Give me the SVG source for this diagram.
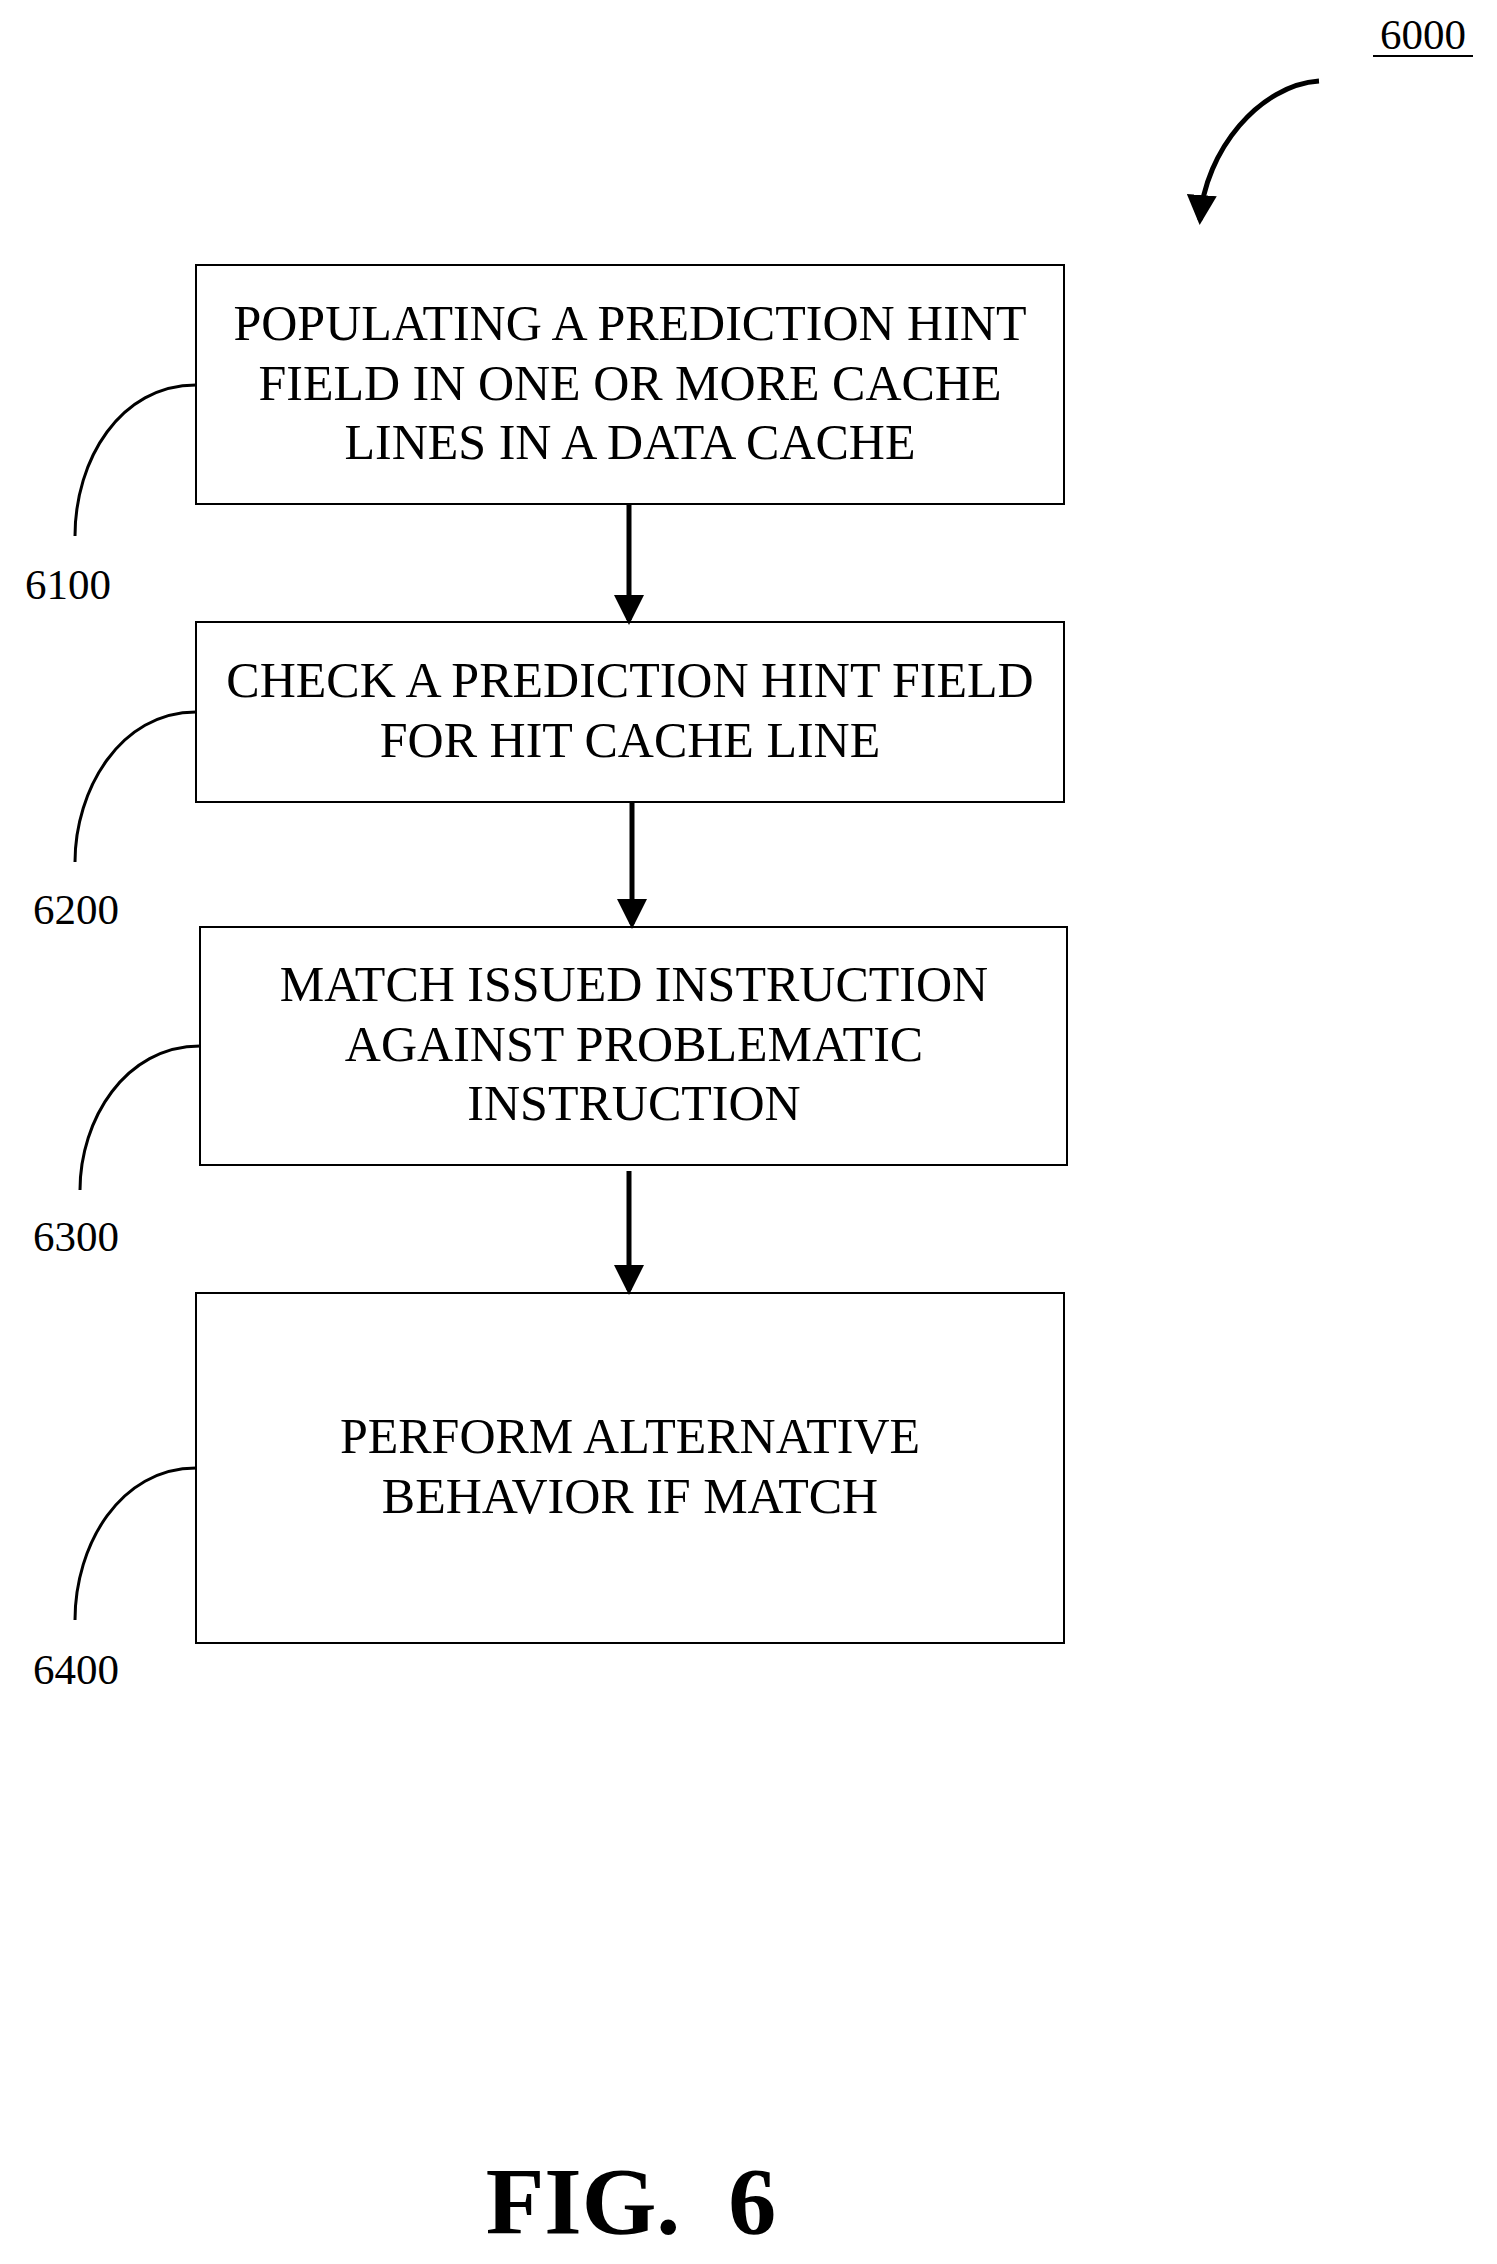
<svg xmlns="http://www.w3.org/2000/svg" width="1497" height="2264" viewBox="0 0 1497 2264">
<style>
.b{fill:#fff;stroke:#000;stroke-width:2}
.t{font-family:"Liberation Serif",serif;font-size:50px;text-anchor:middle}
.l{font-family:"Liberation Serif",serif;font-size:43px;text-anchor:middle}
.c{fill:none;stroke:#000;stroke-width:3}
.k{fill:none;stroke:#000;stroke-width:5}
</style>
<defs><marker id="a" markerWidth="6" markerHeight="6" refX="5" refY="3" orient="auto" markerUnits="strokeWidth"><path d="M0,0L6,3L0,6z"/></marker></defs>
<rect width="1497" height="2264" fill="#fff"/>
<g id="n6100"><rect class="b" x="196" y="265" width="868" height="239"/>
<text class="t" x="630" y="340">POPULATING A PREDICTION HINT</text>
<text class="t" x="630" y="400">FIELD IN ONE OR MORE CACHE</text>
<text class="t" x="630" y="459">LINES IN A DATA CACHE</text>
<path class="c" d="M196,385 C120,385 75,460 75,536"/><text class="l" x="68" y="599">6100</text></g>
<g id="n6200"><rect class="b" x="196" y="622" width="868" height="180"/>
<text class="t" x="630" y="697">CHECK A PREDICTION HINT FIELD</text>
<text class="t" x="630" y="757">FOR HIT CACHE LINE</text>
<path class="c" d="M196,712 C120,712 75,790 75,862"/><text class="l" x="76" y="924">6200</text></g>
<g id="n6300"><rect class="b" x="200" y="927" width="867" height="238"/>
<text class="t" x="634" y="1001">MATCH ISSUED INSTRUCTION</text>
<text class="t" x="634" y="1061">AGAINST PROBLEMATIC</text>
<text class="t" x="634" y="1120">INSTRUCTION</text>
<path class="c" d="M200,1046 C125,1046 80,1120 80,1190"/><text class="l" x="76" y="1251">6300</text></g>
<g id="n6400"><rect class="b" x="196" y="1293" width="868" height="350"/>
<text class="t" x="630" y="1453">PERFORM ALTERNATIVE</text>
<text class="t" x="630" y="1513">BEHAVIOR IF MATCH</text>
<path class="c" d="M196,1468 C120,1468 75,1545 75,1620"/><text class="l" x="76" y="1684">6400</text></g>
<g id="connectors">
<path class="k" d="M629,504V620" marker-end="url(#a)"/>
<path class="k" d="M632,802V924" marker-end="url(#a)"/>
<path class="k" d="M629,1171V1290" marker-end="url(#a)"/>
<path class="k" d="M1319,81 C1260,85 1205,150 1200,220" marker-end="url(#a)"/>
</g>
<text class="l" x="1423" y="49">6000</text>
<line x1="1373" y1="56" x2="1473" y2="56" stroke="#000" stroke-width="2"/>
<text x="631" y="2234" font-family="Liberation Serif,serif" font-size="96" font-weight="bold" text-anchor="middle" xml:space="preserve">FIG.  6</text>
</svg>
